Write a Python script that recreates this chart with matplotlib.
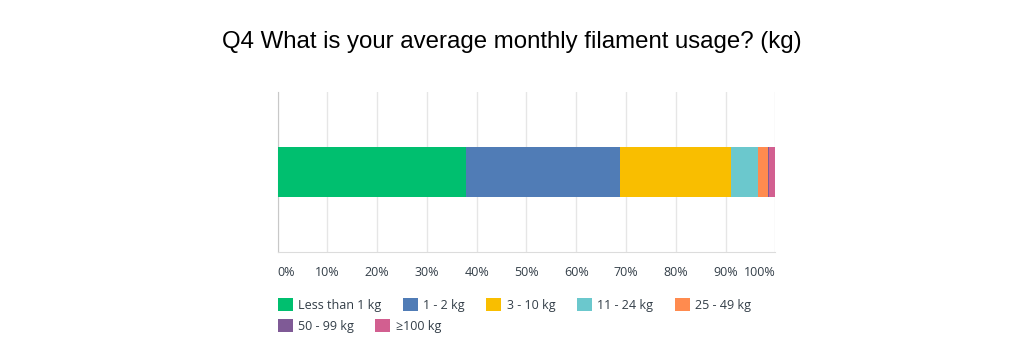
import matplotlib.pyplot as plt
from matplotlib.patches import Patch
from matplotlib.legend import Legend

# Data (percent of respondents)
categories = ['Less than 1 kg', '1 - 2 kg', '3 - 10 kg', '11 - 24 kg',
              '25 - 49 kg', '50 - 99 kg', '≥100 kg']
shares = [37.8, 30.9, 22.4, 5.3, 2.1, 0.3, 1.2]
colors = ['#00bf6f', '#507cb6', '#f9be00', '#6bc8cd',
          '#ff8b4f', '#7f5a96', '#d25f90']
ticks = [0, 10, 20, 30, 40, 50, 60, 70, 80, 90, 100]
tick_labels = [f'{t}%' for t in ticks]

plt.rcParams['font.family'] = ['Open Sans', 'DejaVu Sans']
text_color = '#333e48'

fig = plt.figure(figsize=(10.24, 3.45), dpi=100)
ax = fig.add_axes([0.271, 0.2687, 0.4863, 0.4655])

left = 0
for cat, val, col in zip(categories, shares, colors):
    ax.barh(0, val, left=left, height=0.62, color=col, label=cat, zorder=3)
    left += val

ax.set_xlim(0, 100)
ax.set_ylim(-1, 1)
ax.set_yticks([])
ax.set_xticks(ticks)
ax.set_xticklabels(tick_labels, fontsize=9, color=text_color)
labels = ax.get_xticklabels()
labels[0].set_ha('left')
labels[-1].set_ha('right')
ax.tick_params(axis='x', length=0, pad=10)
ax.grid(axis='x', color='#e6e6e6', linewidth=1, zorder=0)

for s in ['top', 'right']:
    ax.spines[s].set_visible(False)
ax.spines['left'].set_color('#c8c8c8')
ax.spines['bottom'].set_color('#dcdcdc')

fig.suptitle('Q4 What is your average monthly filament usage? (kg)',
             x=0.5, y=0.91, fontsize=17.3, family='Liberation Sans', color='black')

# legend laid out as flowing rows: 5 items, then 2 items
handles = [Patch(facecolor=c, edgecolor='none') for c in colors]
rows = [(list(range(5)), -0.285), (list(range(5, 7)), -0.415)]
for idx, y in rows:
    leg = Legend(ax, [handles[i] for i in idx], [categories[i] for i in idx],
                 ncol=len(idx), loc='upper left', bbox_to_anchor=(0.0, y),
                 frameon=False, fontsize=9, handlelength=1.2, handleheight=1.2,
                 handletextpad=0.45, columnspacing=1.7,
                 borderaxespad=0, borderpad=0)
    for t in leg.get_texts():
        t.set_color(text_color)
    ax.add_artist(leg)

fig.savefig('out.png', dpi=100)
